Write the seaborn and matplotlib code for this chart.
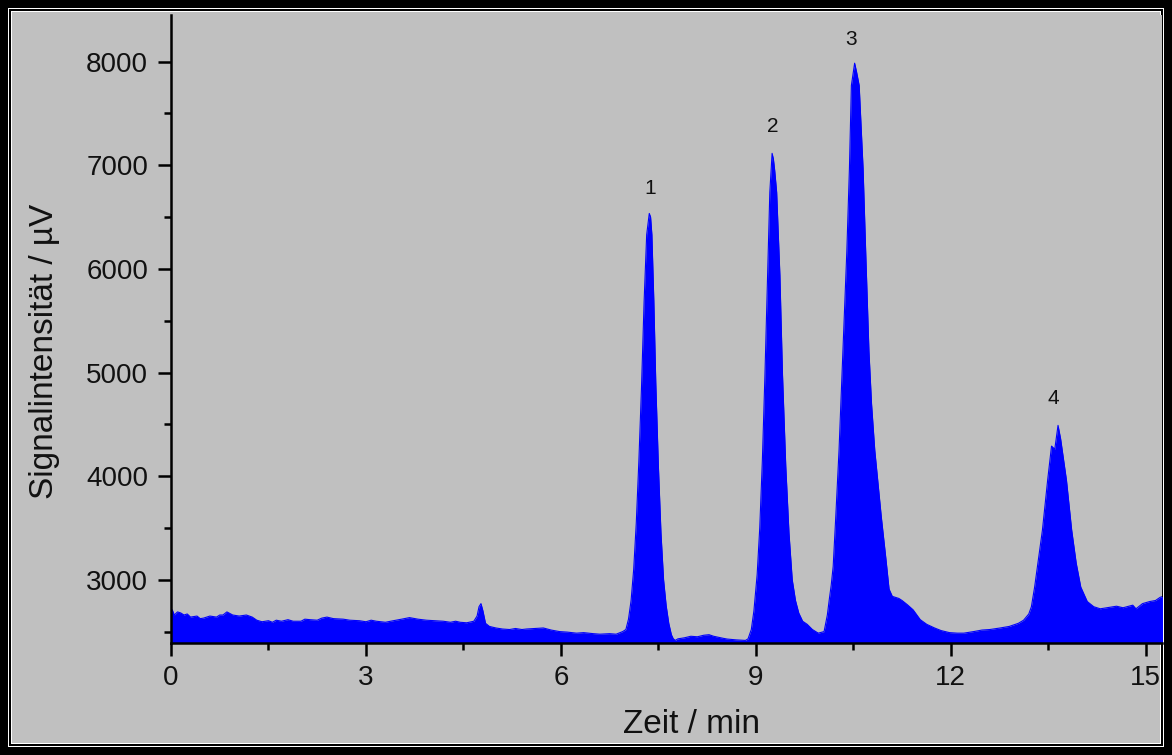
import pandas as pd
import seaborn as sns
import matplotlib.pyplot as plt
from matplotlib.patches import Rectangle
from matplotlib.ticker import MultipleLocator

# chromatogram (Zeit in min, Signal in µV)
time_min = [
    0.00, 0.02, 0.05, 0.10, 0.15, 0.20, 0.25, 0.30, 0.40, 0.45, 0.50, 0.60, 0.70, 0.75,
    0.80, 0.86, 0.95, 1.05, 1.16, 1.25, 1.32, 1.40, 1.50, 1.56, 1.62, 1.70, 1.80, 1.88,
    2.00, 2.06, 2.14, 2.25, 2.32, 2.40, 2.50, 2.65, 2.75, 2.90, 3.00, 3.08, 3.16, 3.30,
    3.42, 3.55, 3.67, 3.80, 3.93, 4.05, 4.19, 4.30, 4.38, 4.45, 4.55, 4.66, 4.71, 4.74,
    4.77, 4.80, 4.84, 4.90, 5.00, 5.10, 5.21, 5.30, 5.40, 5.47, 5.60, 5.73, 5.85, 5.98,
    6.10, 6.24, 6.35, 6.50, 6.60, 6.75, 6.85, 6.95,
    7.00, 7.04, 7.08, 7.12, 7.16, 7.20, 7.24, 7.28, 7.32, 7.36, 7.38, 7.40, 7.43, 7.46,
    7.50, 7.54, 7.58, 7.62, 7.66, 7.70, 7.73, 7.76, 7.80, 7.90, 8.00, 8.10, 8.20, 8.28,
    8.35, 8.40, 8.50, 8.56, 8.70, 8.84, 8.88, 8.93, 8.97, 9.02, 9.06, 9.10, 9.14, 9.18,
    9.215, 9.25, 9.27, 9.29, 9.32, 9.37, 9.41, 9.46, 9.51, 9.56, 9.61, 9.66, 9.72, 9.79,
    9.87, 9.96, 10.05, 10.10, 10.13, 10.16, 10.19, 10.23, 10.28, 10.34, 10.40, 10.44,
    10.47, 10.52, 10.55, 10.59, 10.65, 10.69, 10.74, 10.78, 10.83, 10.93, 11.00, 11.05,
    11.10, 11.20, 11.25, 11.33, 11.42, 11.53, 11.63, 11.75, 11.85, 11.98, 12.10, 12.20,
    12.35, 12.48, 12.60, 12.76, 12.90, 13.04, 13.12, 13.20, 13.24, 13.29, 13.34, 13.41,
    13.49, 13.55, 13.60, 13.65, 13.69, 13.78, 13.86, 13.93, 14.00, 14.10, 14.20, 14.30,
    14.40, 14.55, 14.65, 14.80, 14.85, 14.95, 15.06, 15.15, 15.22, 15.26,
]
signal_uv = [
    2660, 2710, 2660, 2690, 2680, 2660, 2670, 2640, 2650, 2625, 2630, 2650, 2640, 2660,
    2660, 2690, 2660, 2650, 2660, 2640, 2610, 2595, 2605, 2590, 2610, 2600, 2615, 2600,
    2600, 2620, 2615, 2610, 2630, 2640, 2625, 2620, 2610, 2605, 2595, 2610, 2600, 2590,
    2605, 2620, 2635, 2620, 2610, 2605, 2600, 2590, 2600, 2590, 2585, 2600, 2650, 2740,
    2770, 2700, 2580, 2550, 2535, 2525, 2520, 2530, 2520, 2525, 2530, 2535, 2515, 2500,
    2495, 2485, 2490, 2480, 2475, 2480, 2475, 2500,
    2520, 2620, 2800, 3100, 3550, 4150, 4850, 5680, 6330, 6535, 6500, 6330, 5690, 4900,
    4100, 3450, 3000, 2750, 2580, 2470, 2430, 2415, 2430, 2440, 2455, 2450, 2465, 2470,
    2455, 2448, 2435, 2428, 2420, 2415, 2430, 2520, 2700, 3050, 3500, 4150, 4980, 5900,
    6740, 7115, 7060, 6950, 6740, 5940, 4980, 4100, 3450, 3000, 2800, 2680, 2600, 2570,
    2520, 2485, 2500, 2660, 2810, 2950, 3130, 3610, 4250, 5210, 6170, 6970,
    7770, 7985, 7900, 7770, 6970, 6170, 5210, 4700, 4250, 3610, 3210, 2910,
    2840, 2820, 2800, 2760, 2710, 2615, 2570, 2535, 2510, 2490, 2485, 2485,
    2500, 2515, 2520, 2535, 2550, 2580, 2610, 2670, 2740, 2930, 3160, 3480,
    3960, 4290, 4260, 4490, 4360, 3960, 3480, 3160, 2930, 2790, 2740, 2720,
    2730, 2745, 2730, 2755, 2720, 2770, 2790, 2800, 2830, 2840,
]

peak_labels = ['1', '2', '3', '4']
label_time = [7.37, 9.26, 10.46, 13.58]
label_signal = [6780, 7370, 8210, 4750]

x_ticks = [0, 3, 6, 9, 12, 15]
y_ticks = [3000, 4000, 5000, 6000, 7000, 8000]

W, H = 1172, 755
GREY = '#c0c0c0'
BLUE = '#0000ff'
YMIN, YMAX = 2390, 8450

sns.set_theme(style='ticks', rc={
    'axes.edgecolor': 'black',
    'axes.linewidth': 1.8,
    'xtick.major.size': 9.5, 'ytick.major.size': 9.5,
    'xtick.minor.size': 5, 'ytick.minor.size': 5,
    'xtick.major.width': 1.8, 'ytick.major.width': 1.8,
    'xtick.minor.width': 1.8, 'ytick.minor.width': 1.8,
    'xtick.color': 'black', 'ytick.color': 'black',
})
plt.rcParams['font.family'] = ['Liberation Sans', 'DejaVu Sans']

fig = plt.figure(figsize=(W / 100, H / 100), dpi=100)
fig.patch.set_facecolor('black')


def frame(inset, color):
    fig.add_artist(Rectangle((inset / W, inset / H), 1 - 2 * inset / W, 1 - 2 * inset / H,
                             transform=fig.transFigure, facecolor=color,
                             edgecolor='none', zorder=-10))


# double border round the picture
frame(8, 'white')
frame(9, 'black')
frame(11, 'white')
frame(12, GREY)

ax = fig.add_axes([171 / W, (H - 643) / H, 991 / W, 628 / H])
ax.set_facecolor(GREY)

df = pd.DataFrame({'Zeit': time_min, 'Signal': signal_uv})
sns.lineplot(data=df, x='Zeit', y='Signal', color=BLUE, lw=0.8, ax=ax)
ax.fill_between(df['Zeit'], df['Signal'], YMIN, color=BLUE, lw=0)

for lab, t, s in zip(peak_labels, label_time, label_signal):
    ax.text(t, s, lab, ha='center', va='center', fontsize=15, color='#111111')

ax.set_xlim(0, 15.25)
ax.set_ylim(YMIN, YMAX)
ax.set_xticks(x_ticks)
ax.set_yticks(y_ticks)
ax.xaxis.set_minor_locator(MultipleLocator(1.5))
ax.yaxis.set_minor_locator(MultipleLocator(500))
ax.tick_params(axis='both', which='major', labelsize=20, labelcolor='#111111')
ax.tick_params(axis='x', which='major', pad=6)
ax.tick_params(axis='y', which='major', pad=7)
sns.despine(ax=ax)

ax.set_xlabel('Zeit / min', fontsize=24, color='#111111')
ax.set_ylabel('Signalintensität / µV', fontsize=24, color='#111111')
ax.xaxis.set_label_coords(0.525, -0.105)
ax.yaxis.set_label_coords(-0.112, 0.465)

fig.savefig('out.png', dpi=100, facecolor=fig.get_facecolor())
